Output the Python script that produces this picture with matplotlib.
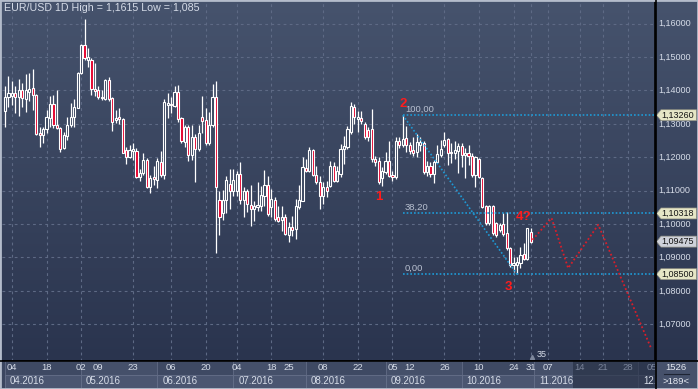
import matplotlib
import matplotlib.pyplot as plt
from matplotlib.colors import LinearSegmentedColormap
from matplotlib.patches import Rectangle, Polygon
from matplotlib.transforms import blended_transform_factory
import numpy as np
matplotlib.use('agg')

plt.rcParams['font.family'] = ['Liberation Sans', 'DejaVu Sans']

# EUR/USD daily bars, 31.03.2016 .. 31.10.2016 (bar index 0..152)
opens = [1.1339, 1.1380, 1.1384, 1.1392, 1.1380, 1.1402, 1.1374, 1.1395, 1.1407, 1.1387,
         1.1272, 1.1266, 1.1286, 1.1318, 1.1360, 1.1296, 1.1287, 1.1228, 1.1265, 1.1297,
         1.1322, 1.1349, 1.1452, 1.1537, 1.1490, 1.1490, 1.1404, 1.1400, 1.1380, 1.1376,
         1.1430, 1.1377, 1.1312, 1.1320, 1.1314, 1.1222, 1.1200, 1.1220, 1.1219, 1.1140,
         1.1152, 1.1192, 1.1112, 1.1140, 1.1132, 1.1187, 1.1147, 1.1357, 1.1360, 1.1354,
         1.1395, 1.1317, 1.1245, 1.1292, 1.1207, 1.1260, 1.1224, 1.1322, 1.1312, 1.1242,
         1.1297, 1.1382, 1.1072, 1.1033, 1.1073, 1.1120, 1.1100, 1.1100, 1.1150, 1.1072,
         1.1098, 1.1058, 1.1045, 1.1052, 1.1055, 1.1085, 1.1118, 1.1052, 1.1072, 1.1022,
         1.1012, 1.1022, 1.0968, 1.0992, 1.0985, 1.1050, 1.1070, 1.1168, 1.1160, 1.1222,
         1.1147, 1.1125, 1.1085, 1.1110, 1.1115, 1.1175, 1.1130, 1.1150, 1.1225, 1.1230,
         1.1275, 1.1352, 1.1315, 1.1318, 1.1300, 1.1282, 1.1285, 1.1195, 1.1190, 1.1138,
         1.1155, 1.1190, 1.1148, 1.1140, 1.1250, 1.1238, 1.1258, 1.1238, 1.1222, 1.1215,
         1.1238, 1.1242, 1.1155, 1.1175, 1.1150, 1.1187, 1.1207, 1.1237, 1.1254, 1.1217,
         1.1212, 1.1220, 1.1234, 1.1207, 1.1212, 1.1204, 1.1147, 1.1195, 1.1137, 1.1054,
         1.1002, 1.1054, 1.1002, 1.0982, 1.1000, 1.0972, 1.0927, 1.0877, 1.0877, 1.0882,
         1.0910, 1.0895, 1.0977]
highs = [1.1414, 1.1442, 1.1427, 1.1412, 1.1434, 1.1422, 1.1450, 1.1452, 1.1464, 1.1390,
         1.1290, 1.1292, 1.1342, 1.1384, 1.1387, 1.1402, 1.1290, 1.1277, 1.1322, 1.1364,
         1.1374, 1.1455, 1.1540, 1.1615, 1.1528, 1.1497, 1.1482, 1.1414, 1.1402, 1.1435,
         1.1440, 1.1382, 1.1342, 1.1347, 1.1317, 1.1230, 1.1237, 1.1242, 1.1227, 1.1164,
         1.1214, 1.1197, 1.1147, 1.1174, 1.1197, 1.1220, 1.1374, 1.1392, 1.1380, 1.1412,
         1.1417, 1.1322, 1.1297, 1.1297, 1.1297, 1.1270, 1.1297, 1.1384, 1.1347, 1.1337,
         1.1420, 1.1427, 1.1100, 1.1103, 1.1145, 1.1165, 1.1165, 1.1160, 1.1185, 1.1110,
         1.1105, 1.1118, 1.1070, 1.1125, 1.1115, 1.1162, 1.1145, 1.1105, 1.1080, 1.1055,
         1.1055, 1.1030, 1.1005, 1.1025, 1.1075, 1.1118, 1.1200, 1.1195, 1.1232, 1.1225,
         1.1175, 1.1145, 1.1125, 1.1130, 1.1190, 1.1185, 1.1175, 1.1240, 1.1265, 1.1295,
         1.1365, 1.1360, 1.1340, 1.1340, 1.1305, 1.1290, 1.1345, 1.1205, 1.1200, 1.1170,
         1.1215, 1.1250, 1.1160, 1.1260, 1.1260, 1.1326, 1.1295, 1.1245, 1.1260, 1.1270,
         1.1262, 1.1250, 1.1190, 1.1185, 1.1192, 1.1237, 1.1252, 1.1277, 1.1257, 1.1242,
         1.1250, 1.1244, 1.1242, 1.1227, 1.1237, 1.1212, 1.1205, 1.1197, 1.1142, 1.1057,
         1.1057, 1.1057, 1.1007, 1.1002, 1.1032, 1.1037, 1.0932, 1.0902, 1.0902, 1.0932,
         1.0942, 1.0987, 1.0987]
lows = [1.1292, 1.1352, 1.1357, 1.1332, 1.1324, 1.1352, 1.1337, 1.1370, 1.1342, 1.1268,
        1.1230, 1.1242, 1.1272, 1.1290, 1.1287, 1.1284, 1.1217, 1.1225, 1.1252, 1.1292,
        1.1290, 1.1347, 1.1450, 1.1490, 1.1470, 1.1387, 1.1384, 1.1374, 1.1372, 1.1372,
        1.1370, 1.1280, 1.1302, 1.1300, 1.1212, 1.1180, 1.1197, 1.1192, 1.1137, 1.1130,
        1.1147, 1.1107, 1.1094, 1.1117, 1.1107, 1.1142, 1.1134, 1.1317, 1.1332, 1.1352,
        1.1307, 1.1242, 1.1232, 1.1189, 1.1192, 1.1127, 1.1220, 1.1272, 1.1237, 1.1237,
        1.1292, 1.0912, 1.0968, 1.1013, 1.1033, 1.1045, 1.1085, 1.1085, 1.1060, 1.1022,
        1.1035, 1.0995, 1.1010, 1.1040, 1.1040, 1.1055, 1.1025, 1.1020, 1.1010, 1.1005,
        1.0980, 1.0968, 1.0945, 1.0965, 1.0955, 1.1045, 1.1068, 1.1155, 1.1155, 1.1145,
        1.1120, 1.1045, 1.1060, 1.1080, 1.1110, 1.1125, 1.1125, 1.1140, 1.1180, 1.1225,
        1.1270, 1.1300, 1.1275, 1.1300, 1.1255, 1.1250, 1.1185, 1.1175, 1.1120, 1.1115,
        1.1150, 1.1140, 1.1130, 1.1135, 1.1228, 1.1232, 1.1215, 1.1210, 1.1205, 1.1200,
        1.1220, 1.1150, 1.1145, 1.1140, 1.1122, 1.1182, 1.1202, 1.1232, 1.1177, 1.1182,
        1.1195, 1.1152, 1.1172, 1.1137, 1.1177, 1.1142, 1.1112, 1.1137, 1.1047, 1.0997,
        1.0997, 1.0967, 1.0962, 1.0977, 1.0965, 1.0922, 1.0870, 1.0858, 1.0851, 1.0867,
        1.0892, 1.0892, 1.0942]
closes = [1.1380, 1.1392, 1.1394, 1.1382, 1.1400, 1.1377, 1.1400, 1.1405, 1.1387, 1.1270,
          1.1266, 1.1284, 1.1320, 1.1359, 1.1296, 1.1287, 1.1225, 1.1267, 1.1297, 1.1322,
          1.1352, 1.1452, 1.1537, 1.1497, 1.1500, 1.1404, 1.1399, 1.1382, 1.1378, 1.1432,
          1.1374, 1.1307, 1.1318, 1.1314, 1.1214, 1.1200, 1.1222, 1.1224, 1.1140, 1.1152,
          1.1192, 1.1112, 1.1137, 1.1134, 1.1190, 1.1147, 1.1367, 1.1362, 1.1357, 1.1395,
          1.1314, 1.1250, 1.1292, 1.1207, 1.1260, 1.1224, 1.1274, 1.1310, 1.1242, 1.1297,
          1.1382, 1.1110, 1.1020, 1.1073, 1.1133, 1.1100, 1.1132, 1.1150, 1.1072, 1.1098,
          1.1060, 1.1045, 1.1055, 1.1058, 1.1088, 1.1118, 1.1030, 1.1075, 1.1015, 1.1010,
          1.1022, 1.0970, 1.0990, 1.0982, 1.1055, 1.1072, 1.1172, 1.1160, 1.1222, 1.1147,
          1.1125, 1.1085, 1.1110, 1.1100, 1.1175, 1.1130, 1.1160, 1.1225, 1.1235, 1.1285,
          1.1355, 1.1320, 1.1320, 1.1308, 1.1262, 1.1262, 1.1195, 1.1185, 1.1125, 1.1160,
          1.1190, 1.1145, 1.1140, 1.1250, 1.1238, 1.1255, 1.1238, 1.1218, 1.1212, 1.1245,
          1.1245, 1.1155, 1.1175, 1.1150, 1.1187, 1.1209, 1.1224, 1.1252, 1.1212, 1.1212,
          1.1222, 1.1234, 1.1207, 1.1212, 1.1204, 1.1147, 1.1200, 1.1140, 1.1050, 1.1002,
          1.1054, 1.0972, 1.0967, 1.0997, 1.0970, 1.0927, 1.0877, 1.0882, 1.0887, 1.0907,
          1.0895, 1.0987, 1.09475]

# wave marks (bar index, label)
wave_idx = [108, 115, 148, 151]
wave_lbl = ['1', '2', '3', '4?']

# fibo retracement between point 2 and point 3
fib_start = 115
fib_end = 148
fib_levels = [1.1326, 1.10318, 1.0850]
fib_names = ['100,00', '38,20', '0,00']

# projected path after the last bar
proj_x = [152.5, 158.0, 162.8, 171.5, 186.9]
proj_y = [1.0953, 1.1018, 1.0868, 1.0998, 1.0625]

# price axis
price_levels = [1.07, 1.08, 1.09, 1.10, 1.11, 1.12, 1.13, 1.14, 1.15, 1.16]
tag_levels = [1.1326, 1.10318, 1.09475, 1.0850]
tag_colors = ['#e6e6c6', '#e6e6c6', '#cfd2da', '#e6e6c6']

# time axis
tick_idx = [2, 12, 22, 27, 37, 48, 58, 67, 77, 82, 92, 102, 112, 117, 127, 137, 147, 152, 157]
tick_lbl = ['04', '18', '02', '09', '23', '06', '20', '04', '18', '25', '08', '22', '05', '12',
            '26', '10', '24', '31', '07']
future_idx = [166.2, 172.8, 180.0, 187.0]
future_lbl = ['14', '21', '28', '05']
grid_idx = [2, 12, 22, 37, 48, 58, 67, 77, 92, 102, 112, 127, 137, 147, 152, 157, 166.2, 172.8, 180.0]
month_idx = [0, 22, 44, 66, 87, 110, 132, 153, 183]
month_lbl = ['04.2016', '05.2016', '06.2016', '07.2016', '08.2016', '09.2016', '10.2016',
             '11.2016', '12.']

W, H = 698, 389
XLIM = (-0.87, 187.9)
YLIM = (1.0590, 1.1665)
LIGHT = '#d6dce8'

fig = plt.figure(figsize=(W / 100, H / 100), dpi=100)

# background gradient over the whole picture
bg = fig.add_axes([0, 0, 1, 1])
cmap = LinearSegmentedColormap.from_list('bg', ['#46536d', '#2a344e'])
rows = np.clip(np.arange(H) / 361.0, 0, 1).reshape(-1, 1)
bg.imshow(rows, cmap=cmap, aspect='auto', extent=[0, 1, 0, 1], vmin=0, vmax=1)
bg.axis('off')

# main chart
ax = fig.add_axes([2 / W, 28 / H, 653 / W, 359 / H])
ax.set_facecolor('none')
ax.set_xlim(*XLIM)
ax.set_ylim(*YLIM)
ax.set_xticks([])
ax.set_yticks([])
for s in ['top', 'left']:
    ax.spines[s].set_visible(False)
ax.spines['right'].set_color('black')
ax.spines['bottom'].set_color('black')
ax.spines['right'].set_linewidth(1.2)
ax.spines['bottom'].set_linewidth(1.2)

for lv in price_levels:
    ax.axhline(lv, color='#5e6a85', lw=0.8, ls=(0, (2.5, 3)), zorder=1)
for gx in grid_idx:
    ax.axvline(gx, color='#5e6a85', lw=0.8, ls=(0, (2.5, 3)), zorder=1)

idx = np.arange(len(closes))
o = np.array(opens)
c = np.array(closes)
ax.vlines(idx, lows, highs, color='white', lw=0.9, zorder=2)
body_bottom = np.minimum(o, c)
body_h = np.maximum(np.abs(c - o), 0.00006)
fills = ['#e4002b' if cc < oo else '#37435d' for oo, cc in zip(o, c)]
ax.bar(idx, body_h, bottom=body_bottom, width=0.62, color=fills,
       edgecolor='white', linewidth=0.8, zorder=3)

# fibo
fib_col = '#1e9ad6'
for lv, name in zip(fib_levels, fib_names):
    ax.plot([fib_start, XLIM[1]], [lv, lv], color=fib_col, lw=1.2, ls=(0, (1, 1.2)), zorder=4)
    ax.annotate(name, (fib_start, lv), xytext=(1.5, 1), textcoords='offset points',
                ha='left', va='bottom', fontsize=6.8, color='#b8c0d0', zorder=5)
ax.plot([fib_start, fib_end], [fib_levels[0], fib_levels[2]], color=fib_col, lw=1.2,
        ls=(0, (1, 1.2)), zorder=4)

ax.plot(proj_x, proj_y, color='#d81e2a', lw=1.3, ls=(0, (1, 1.3)), zorder=4)

# wave labels
offsets = [(0, -5), (0, 4), (-6, -5), (-3, 4)]
for i, lbl, off in zip(wave_idx, wave_lbl, offsets):
    if off[1] < 0:
        y, va = lows[i], 'top'
    else:
        y, va = highs[i], 'bottom'
    ax.annotate(lbl, (i, y), xytext=off, textcoords='offset points', ha='center', va=va,
                fontsize=9.5, fontweight='bold', color='#ff1c1c', zorder=6)

trans = blended_transform_factory(ax.transData, ax.transAxes)
ax.text(155, 0.018, '35', transform=trans, fontsize=6.5, color=LIGHT, ha='center', va='center')
ax.plot([152.3], [0.012], marker='^', ms=3, color='#7d879c', transform=trans, clip_on=False)

fig.text(4 / W, 1 - 8 / H, 'EUR/USD 1D High = 1,1615 Low = 1,085', fontsize=7.7,
         color=LIGHT, ha='left', va='center')

# price axis on the right
ax2 = fig.add_axes([655 / W, 28 / H, 43 / W, 359 / H])
ax2.set_xlim(0, 43)
ax2.set_ylim(*YLIM)
ax2.axis('off')
for lv in price_levels:
    ax2.text(3.5, lv, f'{lv:.5f}'.replace('.', ','), fontsize=6.5, color=LIGHT,
             ha='left', va='center')
ppx = (YLIM[1] - YLIM[0]) / 359
for lv, fc in zip(tag_levels, tag_colors):
    pts = [(1.5, lv), (6, lv + 5.5 * ppx), (41.5, lv + 5.5 * ppx),
           (41.5, lv - 5.5 * ppx), (6, lv - 5.5 * ppx)]
    ax2.add_patch(Polygon(pts, closed=True, facecolor=fc, edgecolor='#8c8c80', lw=0.5, zorder=5))
    ax2.text(6.5, lv, f'{lv:.5f}'.replace('.', ','), fontsize=6.5, color='#141414',
             ha='left', va='center', zorder=6)

# time axis
ax3 = fig.add_axes([2 / W, 0, 653 / W, 28 / H])
ax3.set_xlim(*XLIM)
ax3.set_ylim(28, 0)
ax3.axis('off')
ax3.add_patch(Rectangle((XLIM[0], 0), XLIM[1] - XLIM[0], 28, facecolor='#3b4660', zorder=0))
ppi = 1 / 3.46
for k, (m0, lbl) in enumerate(zip(month_idx, month_lbl)):
    m1 = month_idx[k + 1] if k + 1 < len(month_idx) else XLIM[1]
    fc = '#45506a' if k % 2 else '#3e4963'
    ax3.add_patch(Rectangle((m0, 0), m1 - m0, 28, facecolor=fc, edgecolor='#5f6983', lw=0.6, zorder=1))
    ax3.add_patch(Rectangle((m0, 13.5), m1 - m0, 13.5, facecolor='#4b5671', edgecolor='#66708a',
                            lw=0.6, zorder=1))
    ax3.text(m0 + 5 * ppi, 20.5, lbl, fontsize=7, color=LIGHT, ha='left', va='center',
             clip_on=True, zorder=3)
ax3.add_patch(Rectangle((164.2, 0), XLIM[1] - 164.2, 28, facecolor='#232c40', alpha=0.6, zorder=2))
for x, lbl in zip(tick_idx, tick_lbl):
    ax3.text(x, 6.5, lbl, fontsize=6.8, color=LIGHT, ha='center', va='center', zorder=3)
for x, lbl in zip(future_idx, future_lbl):
    ax3.text(x, 6.5, lbl, fontsize=6.8, color='#7a849a', ha='center', va='center',
             clip_on=True, zorder=3)

# corner box
ax4 = fig.add_axes([655 / W, 0, 43 / W, 28 / H])
ax4.set_xlim(0, 43)
ax4.set_ylim(28, 0)
ax4.axis('off')
ax4.add_patch(Rectangle((0, 0), 43, 28, facecolor='#46516b', zorder=0))
ax4.text(21, 6.5, '1526', fontsize=6.8, color='#e6eaf2', ha='center', va='center')
ax4.plot([9, 34], [13, 13], color='#1e2434', lw=0.8)
ax4.text(21, 20, '>189<', fontsize=6.8, color='#e6eaf2', ha='center', va='center')

# frame lines
fig.add_artist(plt.Line2D([655.5 / W, 655.5 / W], [0, 1], color='black', lw=1.2))
fig.add_artist(plt.Line2D([0, 1], [1 - 361 / H, 1 - 361 / H], color='black', lw=1.2))
fig.add_artist(Rectangle((0, 0), 1, 1, transform=fig.transFigure, fill=False,
                         edgecolor='#b4bccb', lw=2))

fig.savefig('out.png', dpi=100)
